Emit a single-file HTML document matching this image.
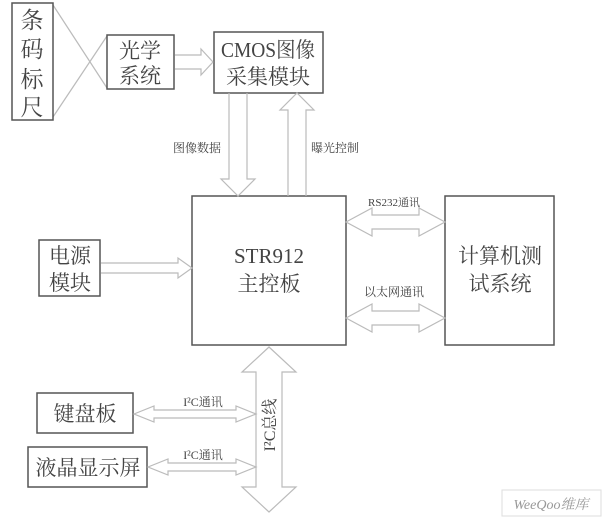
<!DOCTYPE html>
<html><head><meta charset="utf-8"><style>
body{margin:0;background:#fff;}
svg{display:block}
text{font-family:"Liberation Serif","Noto Serif CJK SC",serif;fill:#444}
.b{fill:#fff;stroke:#555;stroke-width:1.5}
.a{fill:none;stroke:#bbb;stroke-width:1.2}
</style></head><body>
<svg width="608" height="523" viewBox="0 0 608 523">
<line x1="53" y1="5" x2="107" y2="88" class="a"/>
<line x1="53" y1="117" x2="107" y2="36" class="a"/>
<rect x="12" y="3" width="41" height="117" class="b"/>
<text x="32" y="28" font-size="23" text-anchor="middle">条</text>
<text x="32" y="57" font-size="23" text-anchor="middle">码</text>
<text x="32" y="87" font-size="23" text-anchor="middle">标</text>
<text x="32" y="115" font-size="23" text-anchor="middle">尺</text>
<rect x="107" y="35" width="67" height="54" class="b"/>
<text x="140" y="58" font-size="21" text-anchor="middle">光学</text>
<text x="140" y="83" font-size="21" text-anchor="middle">系统</text>
<rect x="214" y="32" width="109" height="61" class="b"/>
<text x="268" y="57" font-size="21" text-anchor="middle" textLength="94" lengthAdjust="spacingAndGlyphs">CMOS图像</text>
<text x="268" y="84" font-size="21" text-anchor="middle">采集模块</text>
<rect x="192" y="196" width="154" height="149" class="b"/>
<text x="269" y="263" font-size="21" text-anchor="middle">STR912</text>
<text x="269" y="291" font-size="21" text-anchor="middle">主控板</text>
<rect x="445" y="196" width="109" height="149" class="b"/>
<text x="500" y="263" font-size="21" text-anchor="middle">计算机测</text>
<text x="500" y="291" font-size="21" text-anchor="middle">试系统</text>
<rect x="39" y="240" width="61" height="56" class="b"/>
<text x="70" y="263" font-size="21" text-anchor="middle">电源</text>
<text x="70" y="290" font-size="21" text-anchor="middle">模块</text>
<rect x="37" y="393" width="96" height="40" class="b"/>
<text x="85" y="421" font-size="21" text-anchor="middle">键盘板</text>
<rect x="28" y="447" width="119" height="40" class="b"/>
<text x="88" y="475" font-size="21" text-anchor="middle">液晶显示屏</text>
<polyline class="a" points="175,55 201,55 201,49 213,62 201,75 201,69 175,69"/>
<polyline class="a" points="229,93 229,179 221,179 238,196 255,179 247,179 247,93"/>
<polyline class="a" points="288,196 288,110 280,110 297,93 314,110 306,110 306,196"/>
<polyline class="a" points="101,263 178,263 178,258 192,268 178,278 178,273 101,273"/>
<polygon class="a" points="346,222 372,208 372,215 419,215 419,208 445,222 419,236 419,229 372,229 372,236"/>
<polygon class="a" points="346,318 372,304 372,311 419,311 419,304 445,318 419,332 419,325 372,325 372,332"/>
<polygon class="a" points="269,347 296,372 282,372 282,487 296,487 269,512 242,487 256,487 256,372 242,372"/>
<polygon class="a" points="134,414 154,406 154,410 236,410 236,406 256,414 236,422 236,418 154,418 154,422"/>
<polygon class="a" points="148,467 168,459 168,463 236,463 236,459 256,467 236,475 236,471 168,471 168,475"/>
<text x="197" y="152" font-size="12" text-anchor="middle">图像数据</text>
<text x="335" y="152" font-size="12" text-anchor="middle">曝光控制</text>
<text x="394" y="206" font-size="11" text-anchor="middle">RS232通讯</text>
<text x="394" y="296" font-size="12" text-anchor="middle">以太网通讯</text>
<text x="203" y="406" font-size="12" text-anchor="middle">I²C通讯</text>
<text x="203" y="459" font-size="12" text-anchor="middle">I²C通讯</text>
<text x="0" y="0" font-size="16" text-anchor="middle" transform="translate(275,425) rotate(-90)">I²C总线</text>
<rect x="502" y="490" width="99" height="26" fill="#fff" stroke="#ddd"/>
<text x="551" y="509" font-size="14" text-anchor="middle" style="fill:#999;font-style:italic">WeeQoo维库</text>
</svg>
</body></html>
